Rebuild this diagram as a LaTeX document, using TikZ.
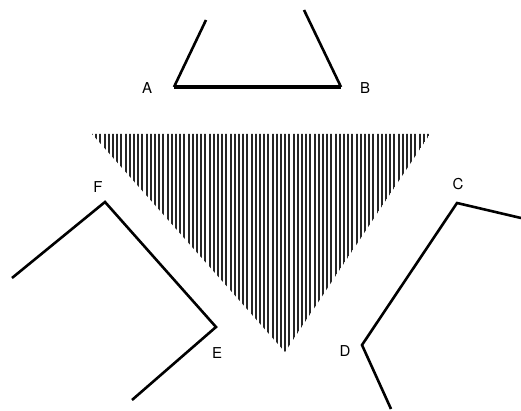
\documentclass[tikz,border=0pt]{standalone}
\usepackage{fontspec}
\setmainfont{TeX Gyre Heros}
\begin{document}
\begin{tikzpicture}[x=1pt,y=-1pt,
  edge/.style={line width=2.6pt,line join=miter,line cap=butt},
  thickedge/.style={line width=3.6pt},
  lbl/.style={font=\fontsize{15}{17}\selectfont,inner sep=0pt},
  hatch/.style={line width=2.0pt,color=black!85}]
\useasboundingbox (0,0) rectangle (521,411);
% top shape
\coordinate (a0) at (206,20);
\coordinate (A) at (174,87);
\coordinate (B) at (341,87);
\coordinate (b0) at (304,10);
\draw[edge] (a0) -- (A);
\draw[edge] (B) -- (b0);
\draw[thickedge] (A) -- (B);
\node[lbl] (lA) at (147,88) {A};
\node[lbl] (lB) at (365,88) {B};
% hatched triangle
\coordinate (t1) at (92,134);
\coordinate (t2) at (430,134);
\coordinate (t3) at (285,352);
\begin{scope}
\clip (t1) -- (t2) -- (t3) -- cycle;
\foreach \i in {92,96.2,...,432} {\draw[hatch] (\i,130) -- (\i,355);}
\end{scope}
% left shape
\coordinate (f0) at (12,278);
\coordinate (F) at (105,202);
\coordinate (E) at (216,327);
\coordinate (e0) at (132,400);
\draw[edge] (f0) -- (F) -- (E) -- (e0);
\node[lbl] (lF) at (98,187) {F};
\node[lbl] (lE) at (217,353) {E};
% right shape
\coordinate (c0) at (521,218);
\coordinate (C) at (457,203);
\coordinate (D) at (362,345);
\coordinate (d0) at (391,409);
\draw[edge] (c0) -- (C) -- (D) -- (d0);
\node[lbl] (lC) at (458,184) {C};
\node[lbl] (lD) at (345,351) {D};
\end{tikzpicture}
\end{document}
